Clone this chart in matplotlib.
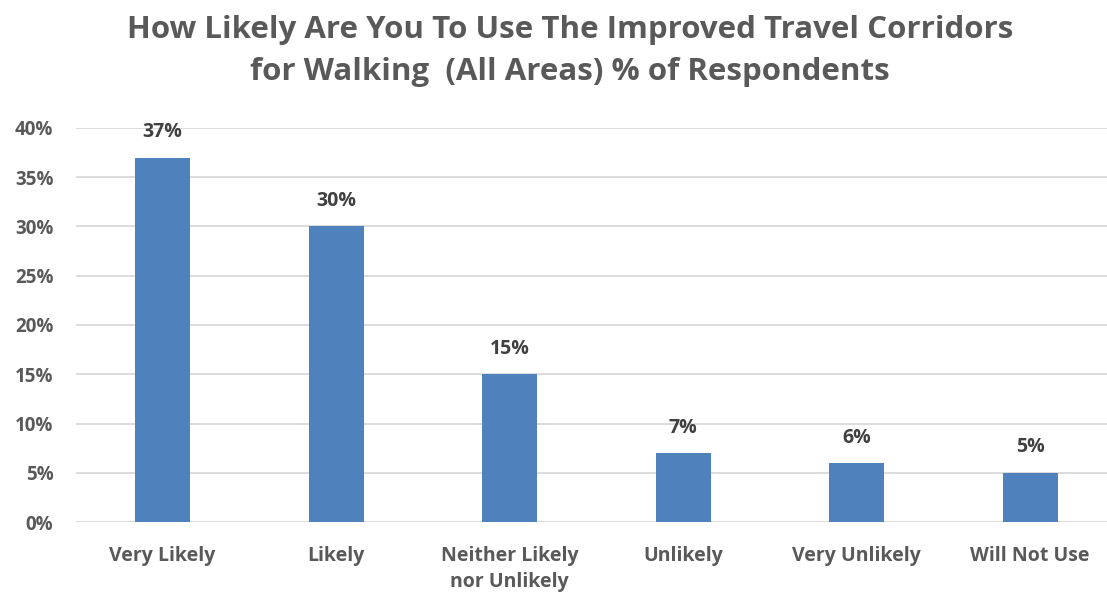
import matplotlib
matplotlib.use("Agg")
import matplotlib.pyplot as plt
from matplotlib.ticker import PercentFormatter

categories = ["Very Likely", "Likely", "Neither Likely\nnor Unlikely", "Unlikely", "Very Unlikely", "Will Not Use"]
values = [37, 30, 15, 7, 6, 5]
yticks = [0, 5, 10, 15, 20, 25, 30, 35, 40]

W, H = 1107, 595
fig = plt.figure(figsize=(W / 100, H / 100), dpi=100)
ax = fig.add_axes([75.7 / W, (H - 522) / H, (1117 - 75.7) / W, (522 - 128) / H])

font = "Open Sans"
gray = "#595959"
dark = "#404040"

x = list(range(len(categories)))
ax.bar(x, values, width=0.317, color="#4F81BD", zorder=3)
ax.set_xlim(-0.5, len(categories) - 0.5)
ax.set_ylim(0, 40)
ax.set_yticks(yticks)
ax.yaxis.set_major_formatter(PercentFormatter(decimals=0))
ax.grid(axis="y", color="#D9D9D9", linewidth=1.3, zorder=0)
ax.set_axisbelow(True)
for s in ax.spines.values():
    s.set_visible(False)
ax.tick_params(length=0)
ax.tick_params(axis="y", pad=16)
ax.tick_params(axis="x", pad=17)
ax.set_xticks(x)
ax.set_xticklabels(categories, fontsize=14, fontweight="bold", color=gray, family=font, va="top", linespacing=1.45)
for lab in ax.get_yticklabels():
    lab.set_fontsize(13.5)
    lab.set_fontweight("bold")
    lab.set_color(gray)
    lab.set_family(font)

for xi, v in zip(x, values):
    ax.annotate(f"{v}%", (xi, v), xytext=(0, 11), textcoords="offset points",
                ha="center", va="bottom", fontsize=14, fontweight="bold", color=dark, family=font)

fig.text(570 / W, 1 - 51 / H, "How Likely Are You To Use The Improved Travel Corridors\nfor Walking  (All Areas) % of Respondents",
         ha="center", va="center", fontsize=22.5, fontweight="bold", color=gray, family=font, linespacing=1.5)

fig.savefig("out.png", dpi=100)
